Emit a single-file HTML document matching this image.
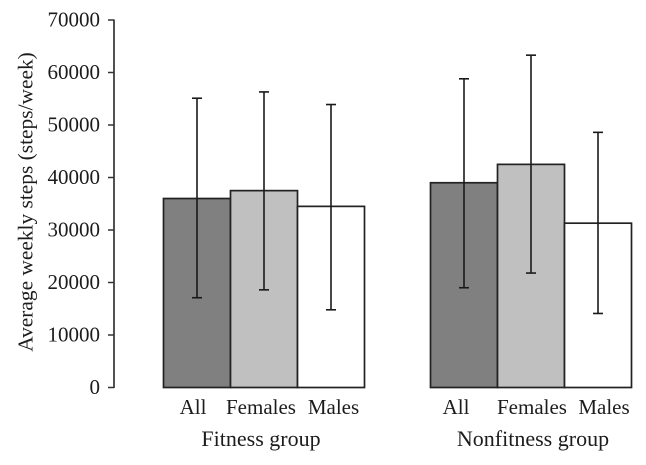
<!DOCTYPE html>
<html><head><meta charset="utf-8"><style>
html,body{margin:0;padding:0;background:#fff;width:646px;height:465px;overflow:hidden}
svg{display:block}
text{font-family:"Liberation Serif",serif;fill:#1c1c1c}
</style></head><body>
<svg id="chart" width="646" height="465" viewBox="0 0 646 465" xmlns="http://www.w3.org/2000/svg"></svg>
<script>
const groups = ["Fitness group", "Nonfitness group"];
const categories = ["All", "Females", "Males"];
const means = [[36000, 37500, 34500], [39000, 42500, 31300]];
const errorLow = [[17100, 18600, 14800], [19000, 21800, 14100]];
const errorHigh = [[55100, 56300, 53900], [58800, 63300, 48600]];
const yTicks = [0, 10000, 20000, 30000, 40000, 50000, 60000, 70000];
const yTitle = "Average weekly steps (steps/week)";
const fills = ["#808080", "#c0c0c0", "#ffffff"];

const NS = "http://www.w3.org/2000/svg";
const svg = document.getElementById("chart");
const y = v => 387.5 - v * (367.5 / 70000);
const barW = 67;
const groupX = g => g === 0 ? 163.5 : 430.5;
const barX = (g, i) => groupX(g) + i * barW;
function mk(tag, attrs, parent) {
  const el = document.createElementNS(NS, tag);
  for (const k in attrs) el.setAttribute(k, attrs[k]);
  (parent || svg).appendChild(el);
  return el;
}
const axisColor = "#333";

const axis = mk("g", {});


mk("line", {x1: 114, x2: 114, y1: y(70000) - 0.5, y2: y(0) + 0.5, stroke: axisColor, "stroke-width": 1.7}, axis);
yTicks.forEach(t => {
  const tick = mk("line", {x1: 108, x2: 114, y1: y(t), y2: y(t), stroke: axisColor, "stroke-width": 1.5}, axis);
  
  
  const label = mk("text", {x: 100, y: y(t) + 6.5, "text-anchor": "end", "font-size": 21}, axis);
  label.textContent = t;
  
  
});

const title = mk("text", {transform: "translate(32.5,202) rotate(-90)", "text-anchor": "middle", "font-size": 21.4});
title.textContent = yTitle;



groups.forEach((name, g) => {
  categories.forEach((cat, i) => {
    const bar = mk("rect", {x: barX(g, i), y: y(means[g][i]), width: barW, height: y(0) - y(means[g][i]), fill: fills[i], stroke: "#222", "stroke-width": 1.7});
    
    
  });
  categories.forEach((cat, i) => {
    const cx = barX(g, i) + barW / 2;
    const err = mk("g", {stroke: "#1a1a1a", "stroke-width": 1.6});
    
    
    mk("line", {x1: cx, x2: cx, y1: y(errorHigh[g][i]), y2: y(errorLow[g][i])}, err);
    mk("line", {x1: cx - 5, x2: cx + 5, y1: y(errorHigh[g][i]), y2: y(errorHigh[g][i])}, err);
    mk("line", {x1: cx - 5, x2: cx + 5, y1: y(errorLow[g][i]), y2: y(errorLow[g][i])}, err);
    const label = mk("text", {x: cx + (g === 0 ? [-4, -3, 2.5][i] : [-8, 1, 6][i]), y: 414, "text-anchor": "middle", "font-size": 21});
    label.textContent = cat;
    
    
  });
  const gl = mk("text", {x: g === 0 ? 261 : 533, y: 446, "text-anchor": "middle", "font-size": 22});
  gl.textContent = name;
  
  
});
</script>
</body></html>
